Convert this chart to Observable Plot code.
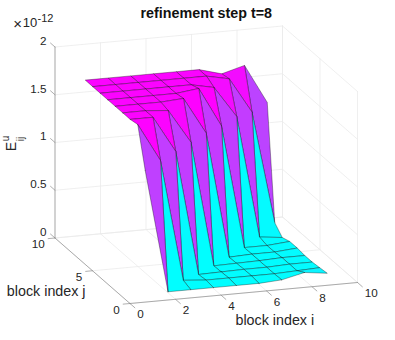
<!DOCTYPE html>
<html>
<head>
<meta charset="utf-8">
<script src="https://cdn.jsdelivr.net/npm/d3@7"></script>
<script src="https://cdn.jsdelivr.net/npm/@observablehq/plot@0.6"></script>
<style>html,body{margin:0;padding:0;background:#fff}svg{display:block}</style>
</head>
<body>
<div id="chart"></div>
<script>
// Data: E_ij^u in units of 1e-12, one array per block index j
const blockI = [1, 2, 3, 4, 5, 6, 7, 8, 9];
const blockJ = [1, 2, 3, 4, 5, 6, 7, 8, 9];
const rowJ1 = [1.30, 0.01, 0.01, 0.01, 0.01, 0.01, 0.025, 0.08, 0.05];
const rowJ2 = [1.715, 1.316, 0.04, 0.02, 0.02, 0.02, 0.02, 0.03, 0.04];
const rowJ3 = [1.70, 1.70, 1.32, 0.01, 0.015, 0.02, 0.02, 0.03, 0.03];
const rowJ4 = [1.70, 1.70, 1.68, 1.326, 0.01, 0.015, 0.02, 0.03, 0.03];
const rowJ5 = [1.70, 1.70, 1.70, 1.716, 1.33, 0.01, 0.02, 0.02, 0.04];
const rowJ6 = [1.70, 1.70, 1.70, 1.70, 1.73, 1.316, 0.02, 0.02, 0.04];
const rowJ7 = [1.70, 1.70, 1.70, 1.70, 1.70, 1.65, 1.323, 0.04, 0.013];
const rowJ8 = [1.70, 1.70, 1.70, 1.70, 1.70, 1.70, 1.65, 1.28, 0.10];
const rowJ9 = [1.70, 1.70, 1.70, 1.70, 1.70, 1.70, 1.634, 1.70, 1.29];
const rows = [rowJ1, rowJ2, rowJ3, rowJ4, rowJ5, rowJ6, rowJ7, rowJ8, rowJ9];

const xTicks = [0, 2, 4, 6, 8, 10];
const yTicks = [0, 5, 10];
const zTicks = [0, 0.5, 1, 1.5, 2];

const titleText = "refinement step t=8";
const xLabel = "block index i";
const yLabel = "block index j";

// Fixed oblique view of the MATLAB axes box
const view = {ox: 129.5, oy: 303, xx: 22.75, xy: -2.1, yx: -7.5, yy: -6.55, zy: -95.5};
const sx = (x, y) => view.ox + view.xx * x + view.yx * y;
const sy = (x, y, z) => view.oy + view.xy * x + view.yy * y + view.zy * z;
const pt = (x, y, z, k) => ({k, px: sx(x, y), py: sy(x, y, z)});
const seg = (k, a, b) => [pt(...a, k), pt(...b, k)];

// Grid lines on floor and back walls
let grid = [], gid = 0;
for (const x of xTicks) {
  grid.push(...seg(gid++, [x, 0, 0], [x, 10, 0]));
  grid.push(...seg(gid++, [x, 10, 0], [x, 10, 2]));
}
for (const y of yTicks) {
  grid.push(...seg(gid++, [0, y, 0], [10, y, 0]));
  grid.push(...seg(gid++, [10, y, 0], [10, y, 2]));
}
for (const z of zTicks) {
  grid.push(...seg(gid++, [0, 10, z], [10, 10, z]));
  grid.push(...seg(gid++, [10, 10, z], [10, 0, z]));
}

// Axis lines and tick tails
let axes = [], aid = 0;
axes.push(...seg(aid++, [0, 0, 0], [10, 0, 0]));
axes.push(...seg(aid++, [0, 0, 0], [0, 10, 0]));
axes.push(...seg(aid++, [0, 10, 0], [0, 10, 2]));
for (const x of xTicks) axes.push(...seg(aid++, [x, 0, 0], [x, -0.65, 0]));
for (const y of yTicks) axes.push(...seg(aid++, [0, y, 0], [-0.3, y, 0]));
for (const z of zTicks) axes.push(...seg(aid++, [0, 10, z], [0, 10.6, z]));

// Surface faces, far ones first; a face takes the colour of its first vertex
let faces = [], fid = 0;
for (let j = blockJ.length - 2; j >= 0; j--) {
  for (let i = blockI.length - 2; i >= 0; i--) {
    const c = rows[j][i];
    const corners = [[i, j], [i + 1, j], [i + 1, j + 1], [i, j + 1], [i, j]];
    for (const [a, b] of corners) {
      faces.push({...pt(blockI[a], blockJ[b], rows[b][a], fid), c});
    }
    fid++;
  }
}

const textFont = "'Liberation Sans', Arial, Helvetica, sans-serif";
const ink = "#262626";

const chart = Plot.plot({
  width: 395,
  height: 340,
  margin: 0,
  style: {background: "#fff", fontFamily: textFont},
  x: {domain: [0, 395], range: [0, 395], axis: null},
  y: {domain: [0, 340], range: [0, 340], axis: null},
  color: {type: "linear", domain: [0.006, 1.73], range: ["#00ffff", "#ff00ff"], interpolate: "rgb"},
  marks: [
    Plot.line(grid, {x: "px", y: "py", z: "k", stroke: "#ebebeb", strokeWidth: 0.8}),
    Plot.line(axes, {x: "px", y: "py", z: "k", stroke: "#8c8c8c", strokeWidth: 0.7}),
    Plot.line(faces, {x: "px", y: "py", z: "k", fill: "c", stroke: "#000", strokeWidth: 0.45, strokeOpacity: 0.75, strokeLinejoin: "round"}),

    Plot.text(zTicks, {x: () => sx(0, 10) - 8.5, y: z => sy(0, 10, z) - 6, text: z => String(z), textAnchor: "end", lineAnchor: "middle", fontSize: 11.7, fill: ink}),
    Plot.text(xTicks, {x: x => sx(x, 0) + 7.2, y: x => sy(x, 0, 0) + 11.2, text: x => String(x), textAnchor: "start", lineAnchor: "middle", fontSize: 11.7, fill: ink}),
    Plot.text(yTicks, {x: y => sx(0, y) - 10.3, y: y => sy(0, y, 0) + 6.3, text: y => String(y), textAnchor: "end", lineAnchor: "middle", fontSize: 11.7, fill: ink}),

    Plot.text([titleText], {x: () => 205.8, y: () => 13, text: d => d, textAnchor: "middle", lineAnchor: "middle", fontSize: 14.3, fontWeight: "bold", fill: "#111"}),
    Plot.text([xLabel], {x: () => 274.3, y: () => 320, text: d => d, textAnchor: "middle", lineAnchor: "middle", fontSize: 14.3, fill: ink}),
    Plot.text([yLabel], {x: () => 45.7, y: () => 290.7, text: d => d, textAnchor: "middle", lineAnchor: "middle", fontSize: 14.3, fill: ink}),

    Plot.text(["E"], {x: () => 11, y: () => 146, text: d => d, rotate: -90, textAnchor: "middle", lineAnchor: "middle", fontSize: 14, fill: ink}),
    Plot.text(["u"], {x: () => 5.5, y: () => 138, text: d => d, rotate: -90, textAnchor: "middle", lineAnchor: "middle", fontSize: 10, fill: ink}),
    Plot.text(["ij"], {x: () => 20.5, y: () => 138.5, text: d => d, rotate: -90, textAnchor: "middle", lineAnchor: "middle", fontSize: 10, fill: ink}),

    Plot.text(["×"], {x: () => 17, y: () => 23.5, text: d => d, textAnchor: "middle", lineAnchor: "middle", fontSize: 15, fill: ink}),
    Plot.text(["10"], {x: () => 29.5, y: () => 22.5, text: d => d, textAnchor: "middle", lineAnchor: "middle", fontSize: 13, fill: ink}),
    Plot.text(["-12"], {x: () => 45, y: () => 17.5, text: d => d, textAnchor: "middle", lineAnchor: "middle", fontSize: 11, fill: ink})
  ]
});
document.getElementById("chart").append(chart);
</script>
</body>
</html>
